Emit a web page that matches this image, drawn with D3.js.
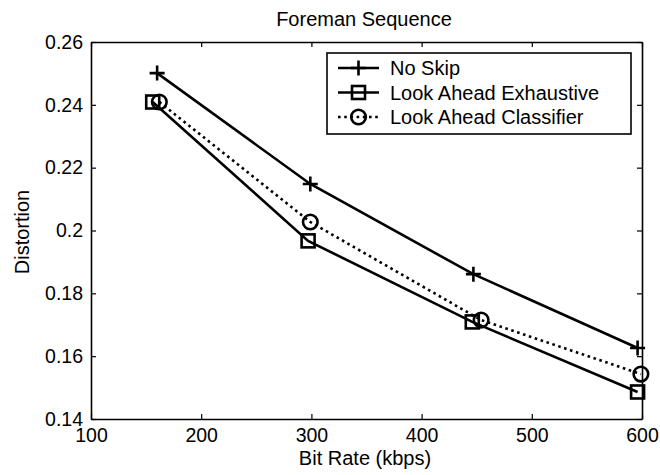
<!DOCTYPE html>
<html>
<head>
<meta charset="utf-8">
<script src="https://cdn.jsdelivr.net/npm/d3@7"></script>
<style>
  body { margin: 0; background: #fff; }
  text { font-family: "Liberation Sans", Arial, sans-serif; fill: #000; }
</style>
</head>
<body>
<div id="chart"></div>
<script>
// data
const xTicks = [100, 200, 300, 400, 500, 600];
const xTickLabels = ["100", "200", "300", "400", "500", "600"];
const yTicks = [0.14, 0.16, 0.18, 0.2, 0.22, 0.24, 0.26];
const yTickLabels = ["0.14", "0.16", "0.18", "0.2", "0.22", "0.24", "0.26"];

const seriesNames = ["No Skip", "Look Ahead Exhaustive", "Look Ahead Classifier"];
const noSkipX = [160, 299, 447, 596];
const noSkipY = [0.2501, 0.2148, 0.1861, 0.1626];
const exhaustiveX = [156, 297, 446, 596];
const exhaustiveY = [0.2409, 0.1967, 0.1709, 0.1486];
const classifierX = [162, 299, 454, 599];
const classifierY = [0.2409, 0.2027, 0.1715, 0.1543];

const svgWidth = 660;
const svgHeight = 475;
const margin = { top: 42, right: 18, bottom: 56, left: 91 };
const chartWidth = svgWidth - margin.left - margin.right;
const chartHeight = svgHeight - margin.top - margin.bottom;

const svg = d3.select("#chart").append("svg")
    .attr("width", svgWidth)
    .attr("height", svgHeight);

svg.append("rect").attr("width", svgWidth).attr("height", svgHeight).attr("fill", "#fff");

const g = svg.append("g")
    .attr("transform", `translate(${margin.left}, ${margin.top})`);

const x = d3.scaleLinear().domain([100, 600]).range([0, chartWidth]);
const y = d3.scaleLinear().domain([0.14, 0.26]).range([chartHeight, 0]);

// axes, MATLAB style box with inward ticks
const fmtX = d => xTickLabels[xTicks.indexOf(d)];
const fmtY = d => yTickLabels[yTicks.findIndex(v => Math.abs(v - d) < 1e-9)];

const xAxis = g.append("g")
    .attr("transform", `translate(0, ${chartHeight})`)
    .call(d3.axisBottom(x).tickValues(xTicks).tickFormat(fmtX).tickSizeInner(-5).tickSizeOuter(0).tickPadding(9));
const xTop = g.append("g")
    .call(d3.axisTop(x).tickValues(xTicks).tickFormat("").tickSizeInner(-5).tickSizeOuter(0));
const yAxis = g.append("g")
    .call(d3.axisLeft(y).tickValues(yTicks).tickFormat(fmtY).tickSizeInner(-5).tickSizeOuter(0).tickPadding(8));
const yRight = g.append("g")
    .attr("transform", `translate(${chartWidth}, 0)`)
    .call(d3.axisRight(y).tickValues(yTicks).tickFormat("").tickSizeInner(-5).tickSizeOuter(0));

g.selectAll(".domain").attr("stroke", "#000").attr("stroke-width", 1.6);
g.selectAll(".tick line").attr("stroke", "#000").attr("stroke-width", 1.2);
g.selectAll(".tick text").attr("font-size", 19.5).attr("font-family", "Liberation Sans, Arial, sans-serif").attr("fill", "#000");

// lines and markers
const series = [
  { name: seriesNames[0], xs: noSkipX, ys: noSkipY, dash: null, marker: "plus" },
  { name: seriesNames[1], xs: exhaustiveX, ys: exhaustiveY, dash: null, marker: "square" },
  { name: seriesNames[2], xs: classifierX, ys: classifierY, dash: "2.6,3.6", marker: "circle" }
];

const line = d3.line().x(d => x(d[0])).y(d => y(d[1]));

function drawMarker(sel, type, cx, cy) {
  if (type === "plus") {
    sel.append("path")
      .attr("d", `M${cx - 7.5},${cy}H${cx + 7.5}M${cx},${cy - 7.5}V${cy + 7.5}`)
      .attr("stroke", "#000").attr("stroke-width", 2.6).attr("fill", "none");
  } else if (type === "square") {
    sel.append("rect")
      .attr("x", cx - 6.5).attr("y", cy - 6.5).attr("width", 13).attr("height", 13)
      .attr("stroke", "#000").attr("stroke-width", 2.6).attr("fill", "none");
  } else {
    sel.append("circle")
      .attr("cx", cx).attr("cy", cy).attr("r", 7.3)
      .attr("stroke", "#000").attr("stroke-width", 2.6).attr("fill", "none");
  }
}

series.forEach(s => {
  const pts = s.xs.map((v, i) => [v, s.ys[i]]);
  g.append("path")
    .datum(pts)
    .attr("d", line)
    .attr("fill", "none")
    .attr("stroke", "#000")
    .attr("stroke-width", 2.6)
    .attr("stroke-dasharray", s.dash);
  const mg = g.append("g");
  pts.forEach(p => drawMarker(mg, s.marker, x(p[0]), y(p[1])));
});

// legend
const legend = svg.append("g");
legend.append("rect")
    .attr("x", 327).attr("y", 53).attr("width", 304).attr("height", 81)
    .attr("fill", "#fff").attr("stroke", "#000").attr("stroke-width", 1.6);

series.forEach((s, i) => {
  const ly = 68 + i * 24.5;
  legend.append("line")
    .attr("x1", 338).attr("x2", 379).attr("y1", ly).attr("y2", ly)
    .attr("stroke", "#000").attr("stroke-width", 2.6)
    .attr("stroke-dasharray", s.dash);
  drawMarker(legend, s.marker, 358.5, ly);
  legend.append("text")
    .attr("x", 390).attr("y", ly + 7)
    .attr("font-size", 20)
    .text(s.name);
});

// titles
svg.append("text")
    .attr("x", 364).attr("y", 26)
    .attr("text-anchor", "middle")
    .attr("font-size", 20)
    .text("Foreman Sequence");

svg.append("text")
    .attr("x", 365).attr("y", 465)
    .attr("text-anchor", "middle")
    .attr("font-size", 20)
    .text("Bit Rate (kbps)");

svg.append("text")
    .attr("transform", "translate(29, 232) rotate(-90)")
    .attr("text-anchor", "middle")
    .attr("font-size", 20)
    .text("Distortion");
</script>
</body>
</html>
